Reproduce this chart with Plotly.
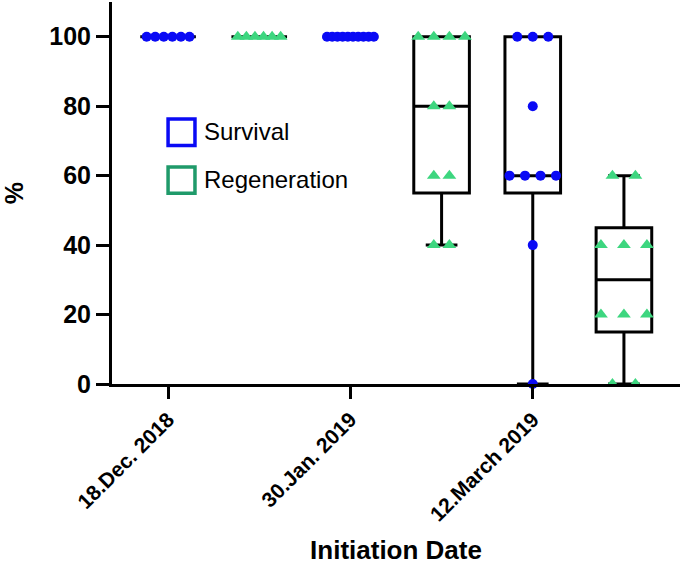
import numpy as np
import plotly.graph_objects as go

# ---------------- data ----------------
dates = ["18.Dec. 2018", "30.Jan. 2019", "12.March 2019"]
date_positions = [1, 3, 5]
series_names = ["Survival", "Regeneration"]

survival_dec = [100, 100, 100, 100, 100, 100]
regeneration_dec = [100, 100, 100, 100, 100, 100]
survival_jan = [100, 100, 100, 100, 100, 100, 100, 100, 100, 100]
regeneration_jan = [100, 100, 100, 100, 80, 80, 60, 60, 40, 40]
survival_mar = [100, 100, 100, 80, 60, 60, 60, 60, 40, 0]
regeneration_mar = [60, 60, 40, 40, 40, 20, 20, 20, 0, 0]

# ---------------- style ----------------
BLUE = "#0a0af5"
GREEN_PT = "#3dd67f"
GREEN_LEG = "#1f9a6a"
FONT = "Liberation Sans, Arial, sans-serif"

groups = [
    dict(pos=1, vals=survival_dec, kind="Survival", spread=0.094),
    dict(pos=2, vals=regeneration_dec, kind="Regeneration", spread=0.094),
    dict(pos=3, vals=survival_jan, kind="Survival", spread=0.057),
    dict(pos=4, vals=regeneration_jan, kind="Regeneration", spread=0.171),
    dict(pos=5, vals=survival_mar, kind="Survival", spread=0.170),
    dict(pos=6, vals=regeneration_mar, kind="Regeneration", spread=0.252),
]

fig = go.Figure()

# boxes (min-max whiskers, GraphPad-style quartiles)
for g in groups:
    v = np.array(g["vals"], dtype=float)
    q1, med, q3 = np.percentile(v, [25, 50, 75], method="weibull")
    fig.add_trace(go.Box(
        x=[g["pos"]], q1=[q1], median=[med], q3=[q3],
        lowerfence=[v.min()], upperfence=[v.max()],
        width=0.61, whiskerwidth=0.57,
        line=dict(color="black", width=3),
        fillcolor="rgba(0,0,0,0)",
        boxpoints=False, showlegend=False, hoverinfo="skip",
    ))

# points, spread horizontally when equal
for g in groups:
    xs, ys = [], []
    vals = g["vals"]
    for val in sorted(set(vals), reverse=True):
        k = vals.count(val)
        for i in range(k):
            xs.append(g["pos"] + (i - (k - 1) / 2) * g["spread"])
            ys.append(val)
    if g["kind"] == "Survival":
        marker = dict(symbol="circle", size=10, color=BLUE)
    else:
        marker = dict(symbol="triangle-up", size=12, color=GREEN_PT)
    fig.add_trace(go.Scatter(
        x=xs, y=ys, mode="markers", marker=marker,
        cliponaxis=False, showlegend=False, hoverinfo="skip",
    ))

# legend drawn as outlined squares + labels
legend_colors = [BLUE, GREEN_LEG]
leg_x0, leg_y_top, leg_step, sq = 1.0, 76.3, 13.8, 0.295  # x in category units, y in %
for i, (name, col) in enumerate(zip(series_names, legend_colors)):
    yt = leg_y_top - i * leg_step
    fig.add_shape(type="rect", xref="x", yref="y",
                  x0=leg_x0, x1=leg_x0 + sq, y0=yt - 7.6, y1=yt,
                  line=dict(color=col, width=3.5), fillcolor="rgba(0,0,0,0)")
    fig.add_annotation(xref="x", yref="y", x=leg_x0 + sq + 0.075, y=yt - 3.6,
                       text=name, showarrow=False, xanchor="left", yanchor="middle",
                       font=dict(family=FONT, size=24, color="black"))

fig.update_layout(
    width=685, height=565,
    margin=dict(l=112, r=5, t=2, b=181),
    paper_bgcolor="white", plot_bgcolor="white",
    showlegend=False,
    font=dict(family=FONT, color="black"),
    xaxis=dict(
        range=[0.385, 6.615], automargin=False,
        tickmode="array", tickvals=date_positions, ticktext=dates,
        tickangle=-45,
        ticks="outside", ticklen=12, tickwidth=3, tickcolor="black",
        showline=True, linewidth=3, linecolor="black",
        showgrid=False, zeroline=False,
        tickfont=dict(family=FONT, size=21, weight="bold", color="black"),
        title=dict(text="Initiation Date", standoff=22,
                   font=dict(family=FONT, size=26, weight="bold", color="black")),
    ),
    yaxis=dict(
        range=[0, 110], automargin=False,
        tickmode="array", tickvals=[0, 20, 40, 60, 80, 100],
        ticks="outside", ticklen=13, tickwidth=3, tickcolor="black",
        showline=True, linewidth=3, linecolor="black",
        showgrid=False, zeroline=False,
        tickfont=dict(family=FONT, size=25, weight="bold", color="black"),
        title=dict(text="%", standoff=28,
                   font=dict(family=FONT, size=25, weight="bold", color="black")),
    ),
)

fig.write_html("out.html",
               config={"displayModeBar": False, "staticPlot": True},
               post_script="document.body.style.margin='0';document.body.style.padding='0';")
